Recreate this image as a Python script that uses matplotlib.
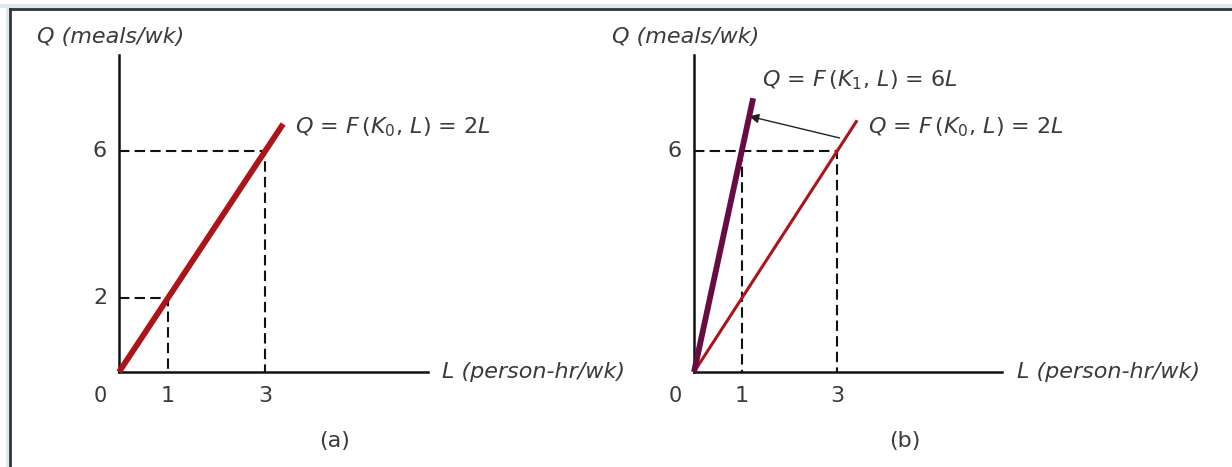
import matplotlib
matplotlib.use('Agg')
import matplotlib.pyplot as plt
from matplotlib.lines import Line2D
from matplotlib.patches import Rectangle

plt.rcParams['font.family'] = ['DejaVu Sans']
plt.rcParams['mathtext.fontset'] = 'dejavusans'

W, H = 1232, 467
RED = '#ad1419'
PURPLE = '#690b42'
FS = 16
TXT = '#3a3a3a'

# Production functions: Q = slope * L
SLOPE_K0 = 2
SLOPE_K1 = 6
L_END_A = 3.37          # end of the 2L ray in panel (a)
L_END_B_K0 = 3.42       # end of the 2L ray in panel (b)
L_END_B_K1 = 1.24       # end of the 6L ray in panel (b)

# Reference points marked with dashed guides
L_MARKS_A = [1, 3]
Q_MARKS_A = [2, 6]
L_MARKS_B = [1, 3]
Q_MARKS_B = [6]

# Arrow from the old ray to the new ray in panel (b)
ARROW_FROM = (3.05, 6.36)
ARROW_TO_Q = 6.95

LABEL_K0 = r'$Q$ = $F\,$($K_0$, $L$) = 2$L$'
LABEL_K1 = r'$Q$ = $F\,$($K_1$, $L$) = 6$L$'

fig = plt.figure(figsize=(W / 100, H / 100), dpi=100)


def px_axes(x0, y_origin, x1, y_top):
    return fig.add_axes([x0 / W, 1 - y_origin / H, (x1 - x0) / W, (y_origin - y_top) / H])


def setup(ax, xmax, ymax):
    ax.set_xlim(0, xmax)
    ax.set_ylim(0, ymax)
    for s in ('top', 'right'):
        ax.spines[s].set_visible(False)
    for s in ('left', 'bottom'):
        ax.spines[s].set_linewidth(1.8)
        ax.spines[s].set_color('#111111')
    ax.set_xticks([])
    ax.set_yticks([])
    ax.patch.set_alpha(0)


def dashed(ax, xs, ys):
    ax.plot(xs, ys, color='#111111', lw=1.5, ls=(0, (5, 2.5)), zorder=2, clip_on=False)


def ticklabels(ax, xs, ys):
    ax.annotate('0', (0, 0), xytext=(-19, -24), textcoords='offset pixels',
                ha='center', va='center', fontsize=FS - 1, color=TXT)
    for x in xs:
        ax.annotate(str(x), (x, 0), xytext=(0, -24), textcoords='offset pixels',
                    ha='center', va='center', fontsize=FS, color=TXT)
    for y in ys:
        ax.annotate(str(y), (0, y), xytext=(-19, 0), textcoords='offset pixels',
                    ha='center', va='center', fontsize=FS, color=TXT)


# ---- panel (a) ----
ax_a = px_axes(119, 372, 428, 55)
setup(ax_a, (428 - 119) / 48.7, (372 - 55) / 36.8)
for lm, qm in zip(L_MARKS_A, Q_MARKS_A):
    dashed(ax_a, [0, lm, lm], [qm, qm, 0])
ax_a.plot([0, L_END_A], [0, SLOPE_K0 * L_END_A], color=RED, lw=4.2,
          solid_capstyle='butt', zorder=3, clip_on=False)
ticklabels(ax_a, L_MARKS_A, Q_MARKS_A)
ax_a.text(L_END_A + 0.24, 6.66, LABEL_K0,
          fontsize=FS, va='center', ha='left', color=TXT)

# ---- panel (b) ----
ax_b = px_axes(694, 372, 1002, 55)
setup(ax_b, (1002 - 694) / 47.7, (372 - 55) / 36.8)
dashed(ax_b, [0, L_MARKS_B[1], L_MARKS_B[1]], [Q_MARKS_B[0], Q_MARKS_B[0], 0])
dashed(ax_b, [L_MARKS_B[0], L_MARKS_B[0]], [Q_MARKS_B[0], 0])
ax_b.plot([0, L_END_B_K0], [0, SLOPE_K0 * L_END_B_K0], color=RED, lw=2.2,
          solid_capstyle='butt', zorder=3, clip_on=False)
ax_b.plot([0, L_END_B_K1], [0, SLOPE_K1 * L_END_B_K1], color=PURPLE, lw=4.2,
          solid_capstyle='butt', zorder=4, clip_on=False)
ax_b.annotate('', xy=(ARROW_TO_Q / SLOPE_K1, ARROW_TO_Q), xytext=ARROW_FROM,
              arrowprops=dict(arrowstyle='-|>', color='#222222', lw=1.0,
                              mutation_scale=14, shrinkA=0, shrinkB=0))
ticklabels(ax_b, L_MARKS_B, Q_MARKS_B)
ax_b.text(L_END_B_K0 + 0.23, 6.66, LABEL_K0,
          fontsize=FS, va='center', ha='left', color=TXT)
ax_b.text(1.43, 7.93, LABEL_K1,
          fontsize=FS, va='center', ha='left', color=TXT)

# ---- axis titles and panel captions ----
for x0 in (37, 612):
    fig.text(x0 / W, 1 - 37 / H, 'Q (meals/wk)', fontsize=FS, style='italic',
             ha='left', va='center', color=TXT)
for x0 in (442, 1017):
    fig.text(x0 / W, 1 - 372 / H, 'L (person-hr/wk)', fontsize=FS, style='italic',
             ha='left', va='center', color=TXT)
fig.text(335 / W, 1 - 441 / H, '(a)', fontsize=FS, ha='center', va='center', color=TXT)
fig.text(905 / W, 1 - 441 / H, '(b)', fontsize=FS, ha='center', va='center', color=TXT)

# ---- page frame ----
fig.add_artist(Rectangle((0, 1 - 8 / H), 1, 4 / H, transform=fig.transFigure,
                         facecolor='#dde8ef', edgecolor='none'))
fig.add_artist(Rectangle((6 / W, 0), 3 / W, 1 - 4 / H, transform=fig.transFigure,
                         facecolor='#dde8ef', edgecolor='none'))
fig.add_artist(Line2D([10 / W, 1], [1 - 9 / H, 1 - 9 / H], transform=fig.transFigure,
                      color='#333333', lw=2))
fig.add_artist(Line2D([10 / W, 10 / W], [0, 1 - 9 / H], transform=fig.transFigure,
                      color='#333333', lw=2))

fig.savefig('out.png', dpi=100)
